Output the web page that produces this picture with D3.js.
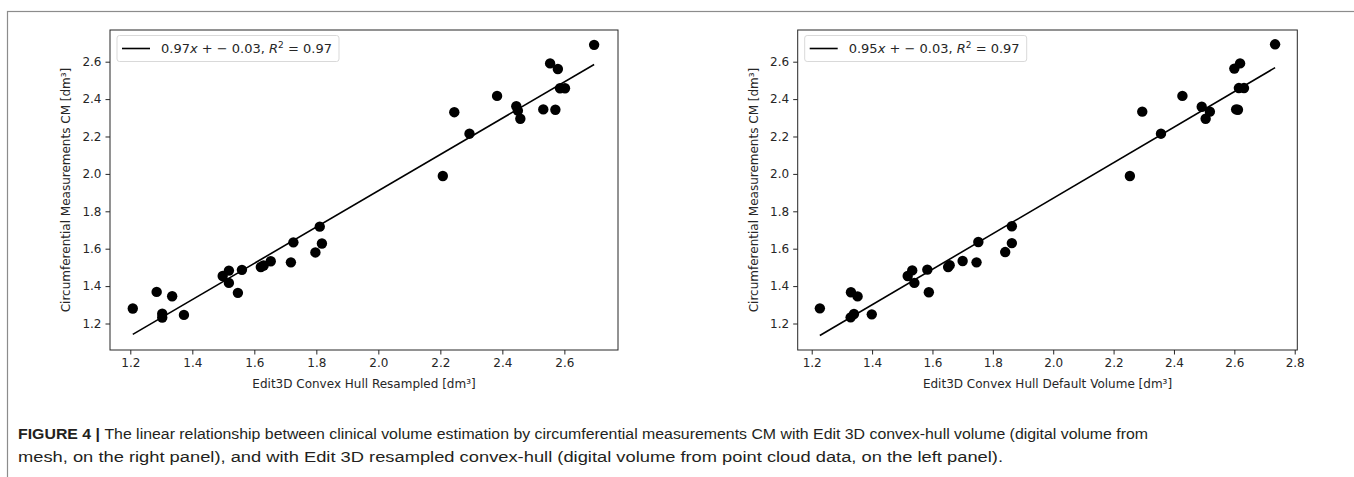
<!DOCTYPE html>
<html>
<head>
<meta charset="utf-8">
<script src="https://cdn.jsdelivr.net/npm/d3@7"></script>
<style>
  body { margin: 0; background: #fff; }
  svg { display: block; }
  .tick text { font-family: "DejaVu Sans", sans-serif; font-size: 12px; fill: #262626; }
  .tick line { stroke: #262626; }
  .domain { display: none; }
</style>
</head>
<body>
<svg id="chart" width="1354" height="477"></svg>
<script>
// left panel: Edit3D convex hull resampled vs CM
var leftX = [1.208, 1.285, 1.335, 1.303, 1.303, 1.373, 1.498, 1.518, 1.518, 1.560, 1.547,
  1.621, 1.630, 1.653, 1.718, 1.726, 1.797, 1.811, 1.818,
  2.208, 2.245, 2.294, 2.383, 2.445, 2.450, 2.458, 2.532, 2.571, 2.554, 2.579, 2.586, 2.602, 2.696];
var leftY = [1.280, 1.369, 1.346, 1.252, 1.232, 1.246, 1.454, 1.483, 1.417, 1.487, 1.364,
  1.502, 1.510, 1.533, 1.527, 1.634, 1.580, 1.718, 1.628,
  1.989, 2.330, 2.215, 2.417, 2.362, 2.338, 2.295, 2.345, 2.343, 2.591, 2.561, 2.458, 2.458, 2.690];

// right panel: Edit3D convex hull default volume vs CM
var rightX = [1.227, 1.330, 1.352, 1.329, 1.340, 1.399, 1.518, 1.533, 1.540, 1.583, 1.588,
  1.652, 1.657, 1.700, 1.746, 1.752, 1.841, 1.863, 1.863,
  2.254, 2.295, 2.357, 2.428, 2.492, 2.519, 2.505, 2.606, 2.612, 2.600, 2.619, 2.615, 2.632, 2.735];
var rightY = [1.281, 1.367, 1.345, 1.233, 1.251, 1.249, 1.454, 1.484, 1.417, 1.488, 1.367,
  1.502, 1.512, 1.534, 1.527, 1.636, 1.582, 1.720, 1.630,
  1.989, 2.333, 2.215, 2.417, 2.359, 2.333, 2.295, 2.345, 2.343, 2.563, 2.591, 2.459, 2.459, 2.693];

// regression fits (slope, intercept, r2)
var leftFit = [0.97, -0.03, 0.97];
var rightFit = [0.95, -0.03, 0.97];

var leftXTicks = [1.2, 1.4, 1.6, 1.8, 2.0, 2.2, 2.4, 2.6];
var rightXTicks = [1.2, 1.4, 1.6, 1.8, 2.0, 2.2, 2.4, 2.6, 2.8];
var yTicks = [1.2, 1.4, 1.6, 1.8, 2.0, 2.2, 2.4, 2.6];

var xLabels = ['Edit3D Convex Hull Resampled [dm\u00b3]', 'Edit3D Convex Hull Default Volume [dm\u00b3]'];
var yLabel = 'Circumferential Measurements CM [dm\u00b3]';
var captionLines = [
  'The linear relationship between clinical volume estimation by circumferential measurements CM with Edit 3D convex-hull volume (digital volume from',
  'mesh, on the right panel), and with Edit 3D resampled convex-hull (digital volume from point cloud data, on the left panel).'
];

var svg = d3.select('#chart');

// outer frame of the figure
svg.append('rect')
  .attr('x', 7.5).attr('y', 11.5)
  .attr('width', 1400).attr('height', 500)
  .attr('fill', 'none').attr('stroke', '#8c8c8c').attr('stroke-width', 1.2);

function drawPanel(opts) {
  var x = d3.scaleLinear().domain(opts.xDomain).range([opts.left, opts.right]);
  var y = d3.scaleLinear().domain([1.0583, 2.7695]).range([350, 30]);
  var g = svg.append('g');

  g.append('g')
    .attr('transform', 'translate(0,350)')
    .call(d3.axisBottom(x).tickValues(opts.xTicks).tickFormat(d3.format('.1f')).tickSizeOuter(0).tickSize(4.5).tickPadding(4));

  g.append('g')
    .attr('transform', 'translate(' + opts.left + ',0)')
    .call(d3.axisLeft(y).tickValues(yTicks).tickFormat(d3.format('.1f')).tickSizeOuter(0).tickSize(4.5).tickPadding(4));

  // spines
  g.append('rect')
    .attr('x', opts.left).attr('y', 30)
    .attr('width', opts.right - opts.left).attr('height', 320)
    .attr('fill', 'none').attr('stroke', '#262626').attr('stroke-width', 1);

  // fit line
  var fit = opts.fit;
  var ext = d3.extent(opts.xs);
  g.append('line')
    .attr('x1', x(ext[0])).attr('y1', y(fit[0] * ext[0] + fit[1]))
    .attr('x2', x(ext[1])).attr('y2', y(fit[0] * ext[1] + fit[1]))
    .attr('stroke', '#000').attr('stroke-width', 1.6);

  // points
  g.selectAll('circle.pt')
    .data(opts.xs.map(function(d, i) { return [d, opts.ys[i]]; }))
    .enter().append('circle')
    .attr('class', 'pt')
    .attr('cx', function(d) { return x(d[0]); })
    .attr('cy', function(d) { return y(d[1]); })
    .attr('r', 5.2)
    .attr('fill', '#000');

  // axis labels
  g.append('text')
    .attr('x', (opts.left + opts.right) / 2).attr('y', 388)
    .attr('text-anchor', 'middle')
    .style('font-family', 'DejaVu Sans, sans-serif').style('font-size', '12px').style('fill', '#262626')
    .text(opts.xLabel);

  g.append('text')
    .attr('transform', 'translate(' + (opts.left - 40) + ',190) rotate(-90)')
    .attr('text-anchor', 'middle')
    .style('font-family', 'DejaVu Sans, sans-serif').style('font-size', '12px').style('fill', '#262626')
    .text(yLabel);

  // legend
  var lx = opts.left + 7;
  g.append('rect')
    .attr('x', lx).attr('y', 35.5)
    .attr('width', 222).attr('height', 26)
    .attr('rx', 2.5)
    .attr('fill', '#fff').attr('stroke', '#d9d9d9').attr('stroke-width', 1);
  g.append('line')
    .attr('x1', lx + 5).attr('x2', lx + 33)
    .attr('y1', 48.5).attr('y2', 48.5)
    .attr('stroke', '#000').attr('stroke-width', 1.6);
  var t = g.append('text')
    .attr('x', lx + 44).attr('y', 53)
    .style('font-family', 'DejaVu Sans, sans-serif').style('font-size', '13px').style('fill', '#262626');
  t.append('tspan').text(fit[0].toFixed(2));
  t.append('tspan').style('font-style', 'italic').text('x');
  t.append('tspan').text(' + \u2212 ' + Math.abs(fit[1]).toFixed(2) + ', ');
  t.append('tspan').style('font-style', 'italic').text('R');
  t.append('tspan').attr('dy', -5).style('font-size', '9px').text('2');
  t.append('tspan').attr('dy', 5).text(' = ' + fit[2].toFixed(2));
}

drawPanel({ left: 110, right: 618, xDomain: [1.1345, 2.773], xTicks: leftXTicks,
  xs: leftX, ys: leftY, fit: leftFit, xLabel: xLabels[0] });
drawPanel({ left: 797.7, right: 1297.3, xDomain: [1.1536, 2.8086], xTicks: rightXTicks,
  xs: rightX, ys: rightY, fit: rightFit, xLabel: xLabels[1] });

// caption
var cap = svg.append('g')
  .style('font-family', 'Liberation Sans, Arial, sans-serif').style('font-size', '15.5px').style('fill', '#231f20');
var first = cap.append('text').attr('x', 18).attr('y', 439)
  .attr('textLength', 1130).attr('lengthAdjust', 'spacingAndGlyphs');
first.append('tspan').style('font-weight', 'bold').text('FIGURE 4 | ');
first.append('tspan').text(captionLines[0]);
cap.append('text').attr('x', 18).attr('y', 462)
  .attr('textLength', 985).attr('lengthAdjust', 'spacingAndGlyphs')
  .text(captionLines[1]);
</script>
</body>
</html>
